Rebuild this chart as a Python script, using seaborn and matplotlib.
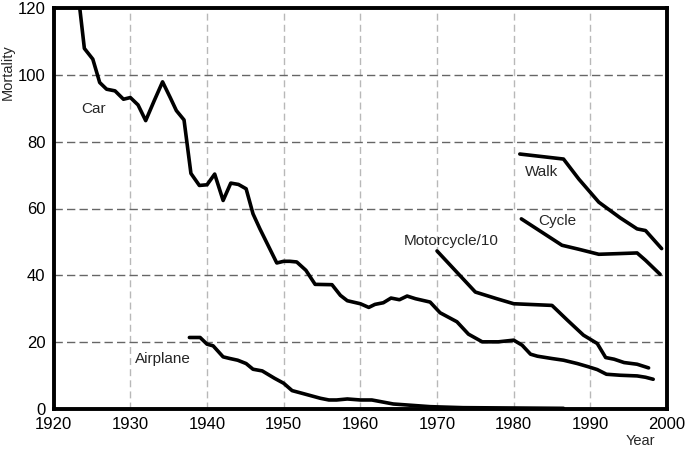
import numpy as np
import pandas as pd
import seaborn as sns
import matplotlib
matplotlib.use("Agg")
import matplotlib.pyplot as plt

# values
car_year = [1923, 1924, 1925.1, 1926, 1926.9, 1928, 1929.1, 1930, 1931, 1932, 1933.1,
            1934.2, 1935.2, 1936, 1937, 1937.9, 1939, 1940, 1941, 1942.1, 1943.1, 1944.1,
            1945.1, 1946, 1946.9, 1949.1, 1950, 1950.8, 1951.7, 1952.9, 1954.1, 1956.3,
            1957.4, 1958.3, 1960, 1961.1, 1961.9, 1963, 1964, 1965.1, 1966.1, 1967.2,
            1969.1, 1970.4, 1972.6, 1974.1, 1975.9, 1978, 1980, 1981.1, 1982.2, 1983.1,
            1985, 1986.5, 1988.3, 1989.8, 1990.9, 1992.1, 1993.9, 1996.1, 1997.2, 1998.2]
car_val = [128, 107.9, 104.7, 97.7, 95.7, 95.2, 92.7, 93.2, 91.0, 86.3, 92.2,
           97.9, 93.2, 89.3, 86.5, 70.5, 66.9, 67.1, 70.3, 62.4, 67.6, 67.2,
           65.9, 58.4, 53.9, 43.7, 44.2, 44.2, 44.0, 41.5, 37.3, 37.2,
           34.0, 32.4, 31.5, 30.4, 31.3, 31.8, 33.2, 32.7, 33.8, 33.0,
           32.0, 28.8, 26.1, 22.4, 20.1, 20.1, 20.6, 19.1, 16.4, 15.8,
           15.1, 14.6, 13.6, 12.6, 11.8, 10.4, 10.1, 9.9, 9.5, 8.9]

air_year = [1937.7, 1939.1, 1940, 1940.8, 1942.1, 1943, 1944, 1945.1, 1946, 1947.2,
            1948.8, 1950, 1951.1, 1952.4, 1954.8, 1955.9, 1956.9, 1958.3, 1960,
            1961.5, 1964.3, 1966.1, 1969.1, 1973.4, 1980, 1986.5]
air_val = [21.4, 21.4, 19.4, 18.9, 15.6, 15.1, 14.6, 13.6, 11.9, 11.4,
           9.2, 7.7, 5.5, 4.7, 3.2, 2.7, 2.7, 3.0, 2.7,
           2.7, 1.5, 1.2, 0.7, 0.4, 0.3, 0.2]

moto_year = [1970, 1975, 1977.8, 1980, 1985, 1987, 1989.1, 1990.9, 1992, 1993.1,
             1994.4, 1996.1, 1997.6]
moto_val = [47.3, 35.0, 33.0, 31.5, 31.0, 26.6, 22.1, 19.6, 15.4, 14.9,
            13.9, 13.4, 12.3]

walk_year = [1980.8, 1986.5, 1988.5, 1991.1, 1993.9, 1996.1, 1997.2, 1999.3]
walk_val = [76.3, 74.8, 68.8, 61.9, 57.2, 53.9, 53.4, 48.0]

cycle_year = [1981, 1986.3, 1988.5, 1991.1, 1993.7, 1996.1, 1997.2, 1999.1]
cycle_val = [56.9, 49.0, 47.8, 46.3, 46.5, 46.7, 44.5, 40.3]

series = {"Car": (car_year, car_val), "Airplane": (air_year, air_val),
          "Motorcycle/10": (moto_year, moto_val), "Walk": (walk_year, walk_val),
          "Cycle": (cycle_year, cycle_val)}
labels = {"Car": (1923.6, 89.9), "Airplane": (1930.6, 14.9),
          "Motorcycle/10": (1965.6, 50.4), "Walk": (1981.5, 70.8),
          "Cycle": (1983.2, 56.4)}

rows = []
for name, (xs, ys) in series.items():
    for x, y in zip(xs, ys):
        rows.append({"Year": x, "Mortality": y, "mode": name})
df = pd.DataFrame(rows)

sns.set_style("white")
plt.rcParams["font.family"] = ["Liberation Sans", "DejaVu Sans"]

fig = plt.figure(figsize=(6.85, 4.51), dpi=100)
ax = fig.add_axes([53.7 / 685, 1 - 409 / 451, (667 - 53.7) / 685, (409 - 8) / 451])

for name in series:
    sns.lineplot(data=df[df["mode"] == name], x="Year", y="Mortality", ax=ax,
                 color="black", lw=2.6, sort=False, estimator=None, legend=False)

ax.set_xlim(1920, 2000)
ax.set_ylim(0, 120)
ax.set_xticks(np.arange(1920, 2001, 10))
ax.set_yticks(np.arange(0, 121, 20))
ax.tick_params(length=0, labelsize=12, pad=6, colors="black")

for v in range(1930, 2000, 10):
    ax.axvline(v, color="#b8b8b8", lw=1, ls=(0, (5, 3)), zorder=0)
for v in range(20, 120, 20):
    ax.axhline(v, color="#666666", lw=1, ls=(0, (6, 3)), zorder=0)

for sp in ax.spines.values():
    sp.set_linewidth(2.8)
    sp.set_color("black")

for name, (x, y) in labels.items():
    ax.text(x, y, name, fontsize=11, va="center", ha="left")

ax.set_xlabel("")
ax.set_ylabel("")
fig.text(8 / 685, 1 - 72 / 451, "Mortality", rotation=90, fontsize=10.5,
         ha="center", va="center")
fig.text(640 / 685, 1 - 441 / 451, "Year", fontsize=10.5, ha="center", va="center")

fig.savefig("out.png", dpi=100)
